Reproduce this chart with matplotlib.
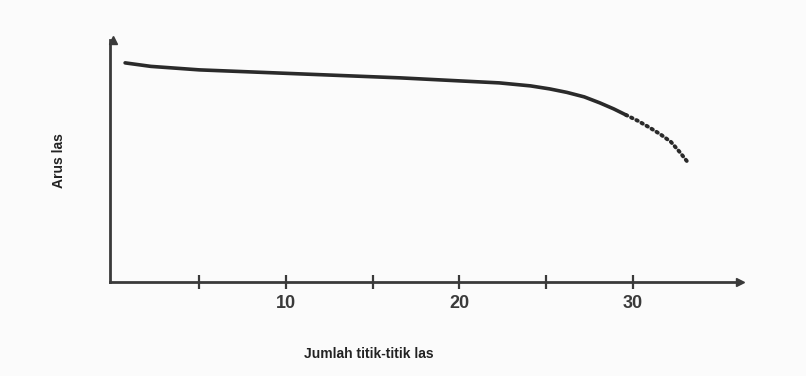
import matplotlib.pyplot as plt
import numpy as np

plt.rcParams['font.family'] = ['Liberation Sans', 'DejaVu Sans']

# values (current in relative units, no y scale given)
x_solid = [0.72, 2.2, 5.0, 7.9, 10.8, 13.7, 16.6, 20.0, 22.3, 24.1, 25.2, 26.2, 27.2, 28.1, 28.9, 29.6]
y_solid = [219, 215.5, 212, 210, 208, 206, 204, 201, 199, 196, 193, 189.5, 185, 179, 173, 167]
x_dot = [29.6, 30.3, 31.0, 31.6, 32.2, 32.7, 33.2]
y_dot = [167, 161, 154, 147.5, 140, 130, 119]

xticks = [5, 10, 15, 20, 25, 30]
xticklabels = ['', '10', '', '20', '', '30']

fig = plt.figure(figsize=(8.06, 3.76), dpi=100)
fig.patch.set_facecolor('#fbfbfb')
ax = fig.add_axes([0.1365, 0.25, 0.782, 0.644])
ax.set_facecolor('none')

ink = '#2a2a2a'
ax.plot(x_solid, y_solid, color=ink, lw=2.6, solid_capstyle='round')
ax.plot(x_dot, y_dot, color=ink, lw=2.8, linestyle=(0, (0.4, 1.1)), dash_capstyle='round')

ax.set_xlim(-0.15, 36.2)
ax.set_ylim(0, 242)

for s in ['top', 'right']:
    ax.spines[s].set_visible(False)
for s in ['left', 'bottom']:
    ax.spines[s].set_linewidth(2)
    ax.spines[s].set_color('#3a3a3a')

# arrow heads on the axes
ax.plot(1, 0, '>', color='#3a3a3a', ms=6, transform=ax.get_yaxis_transform(), clip_on=False)
ax.plot(0, 1, '^', color='#3a3a3a', ms=6, transform=ax.get_xaxis_transform(), clip_on=False)

ax.set_xticks(xticks)
ax.set_xticklabels(xticklabels, fontsize=13, color='#3a3a3a', fontweight='bold')
ax.tick_params(axis='x', direction='inout', length=10, width=1.6, color='#3a3a3a', pad=4)
ax.set_yticks([])

ax.set_xlabel('Jumlah titik-titik las', fontsize=10, fontweight='bold', color='#222222')
ax.xaxis.set_label_coords(0.41, -0.27)
ax.set_ylabel('Arus las', fontsize=10, fontweight='bold', color='#222222')
ax.yaxis.set_label_coords(-0.07, 0.5)

plt.savefig('out.png', dpi=100, facecolor=fig.get_facecolor())
